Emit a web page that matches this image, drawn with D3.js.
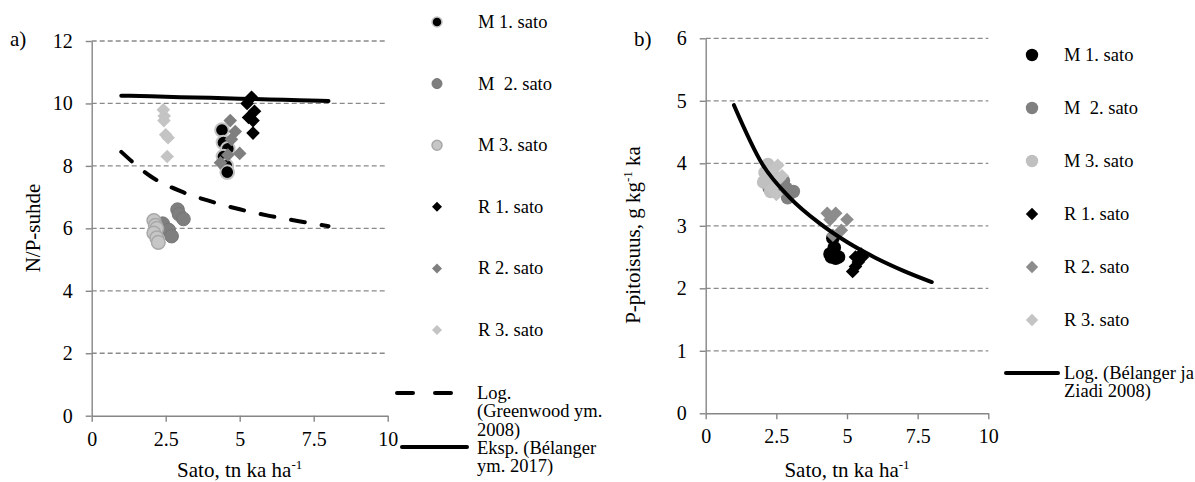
<!DOCTYPE html>
<html>
<head>
<meta charset="utf-8">
<script src="https://cdn.jsdelivr.net/npm/d3@7"></script>
<style>
  body { margin: 0; background: #fff; }
  svg text { font-family: "Liberation Serif", "Times New Roman", serif; fill: #000; }
</style>
</head>
<body>
<div id="chart"></div>
<script>
// Tick values
const xTicks = [0, 2.5, 5, 7.5, 10];
const yTicksA = [0, 2, 4, 6, 8, 10, 12];
const yTicksB = [0, 1, 2, 3, 4, 5, 6];

// Series names (legend order)
const seriesNames = ["M 1. sato", "M  2. sato", "M 3. sato", "R 1. sato", "R 2. sato", "R 3. sato"];

// a) N/P ratio vs yield, [sato, N/P]
const m1A = [[4.4, 9.15], [4.45, 8.75], [4.6, 8.55], [4.45, 8.3], [4.55, 8.0], [4.58, 7.8]];
const m2A = [[2.4, 6.15], [2.6, 5.95], [2.7, 5.75], [2.9, 6.6], [2.95, 6.45], [3.1, 6.3]];
const m3A = [[2.1, 6.25], [2.15, 6.1], [2.2, 6.0], [2.1, 5.85], [2.2, 5.7], [2.25, 5.55]];
const r1A = [[5.4, 10.2], [5.25, 10.0], [5.5, 9.75], [5.3, 9.55], [5.45, 9.45], [5.45, 9.05]];
const r2A = [[4.68, 9.45], [4.85, 9.1], [4.72, 8.85], [5.0, 8.4], [4.6, 8.35], [4.35, 8.1]];
const r3A = [[2.42, 9.8], [2.45, 9.6], [2.44, 9.45], [2.5, 9.0], [2.58, 8.9], [2.55, 8.3]];

// b) P concentration vs yield, [sato, P]
const m1B = [[4.5, 2.8], [4.55, 2.65], [4.4, 2.55], [4.45, 2.5], [4.7, 2.5], [4.6, 2.48]];
const m2B = [[2.75, 3.72], [3.1, 3.55], [2.9, 3.45], [2.25, 3.6], [2.5, 3.65], [2.85, 3.6]];
const m3B = [[2.2, 3.98], [2.1, 3.85], [2.2, 3.75], [2.05, 3.7], [2.4, 3.8], [2.3, 3.55]];
const r1B = [[5.2, 2.27], [5.3, 2.35], [5.4, 2.42], [5.55, 2.5], [5.3, 2.5], [5.5, 2.55]];
const r2B = [[4.3, 3.2], [4.6, 3.2], [4.4, 3.1], [5.0, 3.1], [4.8, 2.93], [4.5, 2.85]];
const r3B = [[2.55, 3.97], [2.4, 3.9], [2.6, 3.75], [2.5, 3.5], [2.35, 3.6], [2.7, 3.8]];

// Trend lines
const trendX = [1, 2, 3, 4, 5, 6, 7, 8];
const greenwoodY = [8.45, 7.66, 7.19, 6.87, 6.61, 6.40, 6.23, 6.07];
const belanger2017Y = [10.25, 10.23, 10.20, 10.18, 10.15, 10.13, 10.10, 10.08];
const belangerZiadiY = [4.93, 3.99, 3.44, 3.05, 2.74, 2.49, 2.28, 2.10];

const width = 1195, height = 482;
const axisColor = "#868686";
const fontFamily = '"Liberation Serif", "Times New Roman", serif';
const tickSize = 20, titleSize = 21, legendSize = 18.5;

const svg = d3.select("#chart").append("svg")
  .attr("width", width)
  .attr("height", height)
  .attr("font-family", fontFamily)
  .attr("font-size", legendSize);

// marker styles per series (M = circle, R = diamond)
const stylesA = [
  { shape: "circle", fill: "#000", stroke: "#c4c4c4", sw: 2 },
  { shape: "circle", fill: "#7f7f7f", stroke: "#777", sw: 1 },
  { shape: "circle", fill: "#c6c6c6", stroke: "#a8a8a8", sw: 1.5 },
  { shape: "diamond", fill: "#000" },
  { shape: "diamond", fill: "#7f7f7f" },
  { shape: "diamond", fill: "#c4c4c4" }
];
const stylesB = [
  { shape: "circle", fill: "#000" },
  { shape: "circle", fill: "#808080" },
  { shape: "circle", fill: "#c0c0c0" },
  { shape: "diamond", fill: "#000" },
  { shape: "diamond", fill: "#8c8c8c" },
  { shape: "diamond", fill: "#c4c4c4" }
];

function drawMarker(g, st, cx, cy, r) {
  if (st.shape === "circle") {
    g.append("circle").attr("cx", cx).attr("cy", cy).attr("r", r)
      .attr("fill", st.fill)
      .attr("stroke", st.stroke || "none")
      .attr("stroke-width", st.sw || 0);
  } else {
    g.append("path")
      .attr("d", d3.symbol(d3.symbolSquare, 2 * r * r))
      .attr("transform", `translate(${cx},${cy}) rotate(45)`)
      .attr("fill", st.fill);
  }
}

function panel(opt) {
  const x = d3.scaleLinear().domain([0, 10]).range(opt.xRange);
  const y = d3.scaleLinear().domain(opt.yDomain).range(opt.yRange);
  const g = svg.append("g");

  // dashed gridlines
  g.selectAll(".grid")
    .data(opt.yTicks.filter(d => d !== 0))
    .join("line")
    .attr("x1", x(0)).attr("x2", x(10))
    .attr("y1", d => y(d)).attr("y2", d => y(d))
    .attr("stroke", "#8a8a8a")
    .attr("stroke-width", 1.3)
    .attr("stroke-dasharray", "5,3");

  // axes
  const fmt = d => String(d);
  const yAxis = g.append("g")
    .attr("transform", `translate(${x(0)},0)`)
    .call(d3.axisLeft(y).tickValues(opt.yTicks).tickFormat(fmt)
      .tickSize(6).tickSizeOuter(0).tickPadding(13));
  const xAxis = g.append("g")
    .attr("transform", `translate(0,${y(0)})`)
    .call(d3.axisBottom(x).tickValues(xTicks).tickFormat(fmt)
      .tickSize(6).tickSizeOuter(0).tickPadding(10));
  [yAxis, xAxis].forEach(a => {
    a.attr("font-family", fontFamily).attr("font-size", tickSize);
    a.select(".domain").attr("stroke", axisColor).attr("stroke-width", 1.4);
    a.selectAll(".tick line").attr("stroke", axisColor).attr("stroke-width", 1.4);
    a.selectAll(".tick text").attr("fill", "#000");
  });

  // points
  opt.series.forEach((pts, i) => {
    const sg = g.append("g");
    pts.forEach(p => drawMarker(sg, opt.styles[i], x(p[0]), y(p[1]), 6.8));
  });

  // trend lines
  const line = d3.line().x(d => x(d[0])).y(d => y(d[1])).curve(d3.curveMonotoneX);
  opt.trends.forEach(t => {
    g.append("path")
      .datum(trendX.map((v, i) => [v, t.values[i]]))
      .attr("d", line)
      .attr("fill", "none")
      .attr("stroke", "#000")
      .attr("stroke-width", 4)
      .attr("stroke-linecap", "round")
      .attr("stroke-dasharray", t.dash || null);
  });

  // panel label
  g.append("text").attr("x", opt.labelX).attr("y", 46)
    .attr("font-size", titleSize).text(opt.label);

  // x title
  const xt = g.append("text")
    .attr("x", (x(0) + x(10)) / 2).attr("y", 477)
    .attr("text-anchor", "middle")
    .attr("font-size", titleSize)
    .text("Sato, tn ka ha");
  xt.append("tspan").attr("dy", -8).attr("font-size", 13).text("-1");

  // y title
  const yt = g.append("text")
    .attr("transform", `translate(${opt.yTitleX},${opt.yTitleY}) rotate(-90)`)
    .attr("text-anchor", "middle")
    .attr("font-size", titleSize);
  opt.yTitle.forEach(part => {
    const ts = yt.append("tspan").text(part.t);
    if (part.sup) ts.attr("dy", -8).attr("font-size", 13);
    if (part.after) ts.attr("dy", 8);
  });
}

panel({
  xRange: [91.7, 387.7], yDomain: [0, 12], yRange: [415.7, 41], yTicks: yTicksA,
  series: [m1A, m2A, m3A, r1A, r2A, r3A], styles: stylesA,
  trends: [
    { values: greenwoodY, dash: "14,17" },
    { values: belanger2017Y }
  ],
  label: "a)", labelX: 10,
  yTitle: [{ t: "N/P-suhde" }], yTitleX: 40, yTitleY: 228
});

panel({
  xRange: [705.7, 988.3], yDomain: [0, 6], yRange: [413.3, 38.3], yTicks: yTicksB,
  series: [m1B, m2B, m3B, r1B, r2B, r3B], styles: stylesB,
  trends: [{ values: belangerZiadiY }],
  label: "b)", labelX: 634,
  yTitle: [{ t: "P-pitoisuus, g kg" }, { t: "-1", sup: true }, { t: " ka", after: true }],
  yTitleX: 640, yTitleY: 235
});

// legends
function legend(styles, mx, tx, y0, step, r) {
  const g = svg.append("g");
  seriesNames.forEach((name, i) => {
    const cy = y0 + i * step;
    drawMarker(g, styles[i], mx, cy, r);
    g.append("text").attr("x", tx).attr("y", cy + 6)
      .attr("xml:space", "preserve")
      .style("white-space", "pre")
      .text(name);
  });
  return g;
}

legend(stylesA.map(s => Object.assign({}, s, { sw: s.sw ? Math.min(s.sw, 1.5) : 0 })), 437, 478, 22, 61.6, 5);
legend(stylesB, 1032, 1064, 55, 53, 6.2);

function lineEntry(x1, x2, ly, dash, lines, tx, ty) {
  const g = svg.append("g");
  g.append("line").attr("x1", x1).attr("x2", x2).attr("y1", ly).attr("y2", ly)
    .attr("stroke", "#000").attr("stroke-width", 4)
    .attr("stroke-linecap", "round")
    .attr("stroke-dasharray", dash || null);
  lines.forEach((t, i) => {
    g.append("text").attr("x", tx).attr("y", ty + i * 18.4).text(t);
  });
}

lineEntry(397, 467, 393, "16,22", ["Log.", "(Greenwood ym.", "2008)"], 477, 399);
lineEntry(402, 467, 447, null, ["Eksp. (Bélanger", "ym. 2017)"], 477, 454);
lineEntry(1006, 1058, 373, null, ["Log. (Bélanger ja", "Ziadi 2008)"], 1064, 379);
</script>
</body>
</html>
